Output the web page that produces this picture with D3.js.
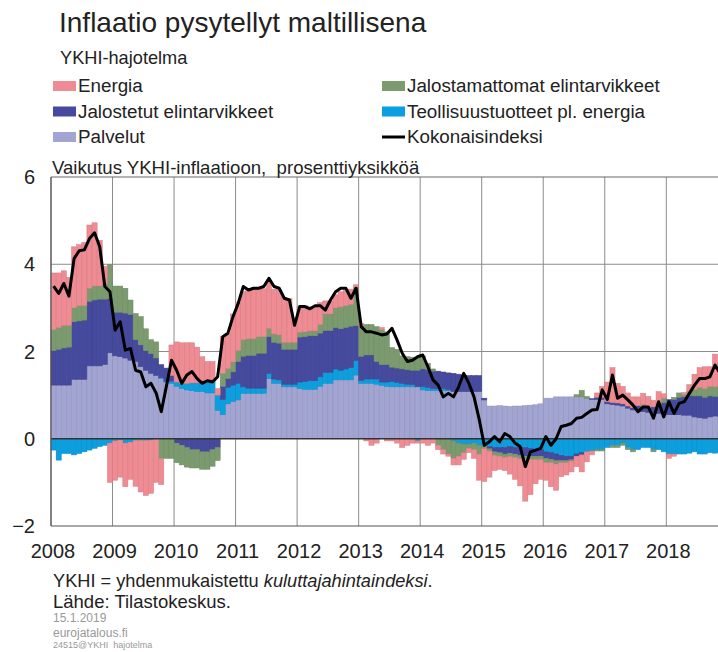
<!DOCTYPE html>
<html><head><meta charset="utf-8">
<script src="https://cdn.jsdelivr.net/npm/d3@7"></script>
<style>
html,body{margin:0;padding:0;background:#fff;}
svg{display:block;font-family:"Liberation Sans",Arial,sans-serif;}
</style></head>
<body>
<svg id="chart" width="718" height="652"></svg>
<script>
// ---------- DATA ----------
const years = ["2008","2009","2010","2011","2012","2013","2014","2015","2016","2017","2018"];
const yTicks = [-2, 0, 2, 4, 6];
const seriesNames = ["Palvelut","Teollisuustuotteet pl. energia","Jalostetut elintarvikkeet","Jalostamattomat elintarvikkeet","Energia"];

const palvelut = [
 1.23,1.23,1.23,1.23,1.36,1.36,1.36,1.67,1.67,1.67,1.70,1.97,
 1.90,1.88,1.85,1.80,1.77,1.65,1.57,1.50,1.45,1.38,1.30,1.27,
 1.20,1.15,1.12,1.10,1.08,1.08,1.05,1.05,0.65,0.55,0.80,0.85,
 0.89,1.04,1.04,1.04,1.04,1.04,1.38,1.27,1.27,1.19,1.19,1.19,
 1.15,1.13,1.13,1.13,1.20,1.27,1.27,1.35,1.35,1.35,1.35,1.46,
 1.27,1.27,1.27,1.25,1.22,1.20,1.19,1.19,1.19,1.19,1.19,1.19,
 1.12,1.10,1.10,1.10,1.10,1.10,1.08,1.08,1.08,1.08,1.08,1.08,
 0.89,0.75,0.75,0.76,0.75,0.74,0.75,0.75,0.76,0.77,0.78,0.80,
 0.93,0.93,0.96,0.96,0.96,0.96,0.96,0.96,0.92,0.90,0.90,0.90,
 0.80,0.78,0.77,0.75,0.70,0.66,0.66,0.62,0.60,0.58,0.58,0.58,
 0.55,0.55,0.55,0.54,0.54,0.50,0.48,0.47,0.50,0.52,0.52,0.52];

const teollisuus = [
 -0.26,-0.49,-0.34,-0.34,-0.37,-0.34,-0.30,-0.26,-0.22,-0.18,-0.15,-0.10,
 -0.05,-0.03,-0.10,-0.08,-0.04,-0.04,-0.04,-0.03,0.00,0.02,0.02,0.05,
 0.10,0.12,0.15,0.18,0.20,0.25,0.27,0.30,0.35,0.35,0.38,0.38,
 0.38,0.15,0.12,0.12,0.12,0.12,0.12,0.10,0.08,0.06,0.06,0.06,
 0.15,0.18,0.20,0.20,0.22,0.25,0.25,0.25,0.22,0.25,0.28,0.33,
 0.07,0.10,0.10,0.12,0.08,0.10,0.12,0.10,0.08,0.06,0.05,-0.05,
 0.08,0.08,0.05,0.05,0.05,0.03,-0.05,-0.10,-0.12,-0.12,-0.10,-0.15,
 -0.18,-0.18,-0.20,-0.20,-0.20,-0.18,-0.20,-0.20,-0.20,-0.22,-0.25,-0.25,
 -0.30,-0.32,-0.35,-0.38,-0.40,-0.40,-0.35,-0.32,-0.30,-0.28,-0.25,-0.25,
 -0.20,-0.15,-0.15,-0.10,-0.20,-0.25,-0.25,-0.20,-0.20,-0.25,-0.25,-0.30,
 -0.35,-0.35,-0.35,-0.35,-0.33,-0.30,-0.35,-0.35,-0.32,-0.33,-0.30,-0.30];

const jalostetut = [
 0.79,0.82,0.85,0.87,1.32,1.34,1.36,1.48,1.51,1.53,1.50,1.25,
 1.00,1.02,1.03,1.05,0.50,0.50,0.45,0.45,0.40,0.30,0.30,0.13,
 -0.10,-0.15,-0.20,-0.25,-0.25,-0.30,-0.30,-0.25,-0.20,0.30,0.20,0.30,
 0.50,0.70,0.75,0.75,0.80,0.80,0.84,0.84,0.84,0.80,0.80,0.80,
 1.03,1.03,1.03,1.03,1.00,0.96,0.96,0.95,0.95,0.95,0.95,0.80,
 0.55,0.55,0.55,0.40,0.40,0.40,0.33,0.33,0.33,0.33,0.33,0.38,
 0.40,0.40,0.40,0.40,0.38,0.38,0.42,0.40,0.38,0.37,0.37,0.37,
 0.04,-0.05,-0.10,-0.12,-0.15,-0.15,-0.15,-0.18,-0.20,-0.18,-0.15,-0.15,
 -0.15,-0.15,-0.15,-0.12,-0.10,-0.08,-0.05,-0.05,0.00,0.02,0.05,0.05,
 0.05,0.05,0.05,0.05,0.05,0.05,0.10,0.12,0.12,0.15,0.20,0.25,
 0.35,0.35,0.40,0.42,0.45,0.48,0.50,0.48,0.48,0.45,0.45,0.45];

const jalostamattomat = [
 0.48,0.50,0.52,0.50,0.32,0.35,0.33,0.30,0.32,0.30,0.35,0.78,
 0.60,0.60,0.57,0.33,0.60,0.65,0.50,0.32,0.37,-0.45,-0.45,-0.45,
 -0.45,-0.45,-0.45,-0.42,-0.42,-0.40,-0.40,-0.38,-0.30,0.30,0.23,0.23,
 0.25,0.38,0.38,0.38,0.38,0.38,0.19,0.19,0.19,0.16,0.16,0.16,
 0.11,0.11,0.11,0.11,0.20,0.38,0.38,0.45,0.50,0.50,0.50,0.89,
 0.70,0.70,0.70,0.80,0.80,0.75,0.45,0.43,0.30,0.30,0.30,0.30,
 0.30,0.15,0.05,-0.15,-0.25,-0.35,-0.40,-0.30,-0.20,-0.10,-0.15,-0.20,
 -0.05,-0.05,-0.08,-0.08,-0.08,-0.08,-0.08,-0.08,-0.08,-0.08,-0.08,-0.08,
 -0.10,-0.08,-0.08,-0.05,-0.05,-0.03,0.05,0.15,0.05,0.00,-0.03,-0.03,
 0.00,-0.05,-0.05,-0.05,-0.05,-0.05,0.00,0.05,0.00,-0.05,0.05,0.10,
 0.00,0.05,0.10,0.05,0.10,0.15,0.20,0.20,0.22,0.22,0.22,0.20];

const energia = [
 1.30,1.25,1.25,1.10,1.40,1.40,1.45,1.45,1.45,1.05,0.40,-0.90,
 -0.90,-0.85,-1.00,-0.85,-1.05,-1.18,-1.26,-1.22,-1.00,-0.60,0.00,0.70,
 0.92,0.93,0.93,0.92,0.82,0.55,0.45,0.42,0.15,0.84,0.81,1.10,
 1.10,1.10,1.15,1.15,1.10,1.10,1.11,1.03,1.03,1.03,1.00,0.46,
 0.60,0.60,0.55,0.55,0.50,0.30,0.30,0.30,0.35,0.35,0.35,0.05,
 0.05,-0.05,-0.15,-0.10,0.05,-0.05,-0.05,-0.10,-0.20,-0.15,-0.10,-0.05,
 -0.10,-0.15,-0.10,-0.10,-0.10,-0.05,-0.15,-0.20,-0.15,-0.10,-0.20,-0.60,
 -0.75,-0.60,-0.35,-0.30,-0.30,-0.40,-0.50,-0.62,-0.95,-0.80,-0.55,-0.45,
 -0.40,-0.55,-0.60,-0.32,-0.28,-0.25,-0.24,-0.39,-0.23,-0.09,0.10,0.25,
 0.45,0.80,0.45,0.40,0.30,0.25,0.20,0.25,0.25,0.15,0.25,0.10,
 -0.10,-0.05,0.00,0.05,0.15,0.35,0.45,0.50,0.45,0.75,0.55,0.35];

const kokonaisindeksi = [
 3.50,3.33,3.56,3.27,4.13,4.31,4.33,4.59,4.72,4.40,3.49,3.37,
 2.49,2.68,2.03,2.07,1.57,1.53,1.19,1.27,1.05,0.62,1.20,1.80,
 1.57,1.27,1.46,1.54,1.38,1.27,1.33,1.30,1.42,2.34,2.42,2.80,
 3.10,3.49,3.41,3.45,3.45,3.49,3.68,3.49,3.45,3.22,3.18,2.60,
 3.03,3.03,2.98,3.05,3.05,2.95,3.18,3.37,3.45,3.45,3.22,3.45,
 2.57,2.45,2.45,2.42,2.38,2.40,2.53,2.26,1.96,1.77,1.80,1.88,
 1.92,1.65,1.35,1.23,0.96,1.04,0.96,1.19,1.50,1.27,0.96,0.45,
 -0.15,-0.07,0.05,-0.07,0.12,0.05,-0.10,-0.18,-0.64,-0.30,-0.26,-0.22,
 0.05,-0.15,0.00,0.28,0.31,0.35,0.47,0.49,0.58,0.66,0.67,1.12,
 0.90,1.46,0.93,1.00,0.89,0.77,0.62,0.73,0.73,0.47,0.85,0.50,
 0.85,0.58,0.81,0.85,1.04,1.23,1.38,1.38,1.42,1.69,1.50,1.30];

// ---------- BUILD ----------
const months = [];
years.forEach(yy => { for (let m = 1; m <= 12; m++) months.push(yy + "-" + String(m).padStart(2, "0")); });
const table = months.map((m, i) => ({
  month: m,
  "Palvelut": palvelut[i],
  "Teollisuustuotteet pl. energia": teollisuus[i],
  "Jalostetut elintarvikkeet": jalostetut[i],
  "Jalostamattomat elintarvikkeet": jalostamattomat[i],
  "Energia": energia[i],
  total: kokonaisindeksi[i]
}));

const colors = {
  "Energia": "#ef8b92",
  "Jalostamattomat elintarvikkeet": "#7b9b6f",
  "Jalostetut elintarvikkeet": "#454a9f",
  "Teollisuustuotteet pl. energia": "#0b9fe0",
  "Palvelut": "#a2a4d2"
};

const svg = d3.select("#chart");
const plotL = 51, plotT = 177, plotB = 526, plotR = 718;
const monthW = 61.53 / 12;

const x = d3.scaleBand().domain(months).range([plotL, plotL + months.length * monthW]).paddingInner(0).paddingOuter(0);
const y = d3.scaleLinear().domain([-2, 6]).range([plotB, plotT]);

svg.append("rect").attr("width", 718).attr("height", 652).attr("fill", "#fff");

// grid
const grid = svg.append("g");
grid.selectAll("line.v").data(years).join("line")
  .attr("x1", d => x(d + "-01")).attr("x2", d => x(d + "-01"))
  .attr("y1", plotT).attr("y2", plotB)
  .attr("stroke", "#8c8c8c").attr("stroke-width", 1);
grid.selectAll("line.h").data([2, 4]).join("line")
  .attr("x1", plotL).attr("x2", plotR)
  .attr("y1", d => y(d)).attr("y2", d => y(d))
  .attr("stroke", "#8c8c8c").attr("stroke-width", 1);

// stacked bars
const stack = d3.stack().keys(seriesNames).offset(d3.stackOffsetDiverging);
const stacked = stack(table);
const bars = svg.append("g");
stacked.forEach(s => {
  const c = colors[s.key];
  bars.append("g").selectAll("rect").data(s).join("rect")
    .attr("x", d => x(d.data.month))
    .attr("width", x.bandwidth())
    .attr("y", d => y(Math.max(d[0], d[1])))
    .attr("height", d => Math.abs(y(d[0]) - y(d[1])))
    .attr("fill", c)
    .attr("stroke", d3.color(c).darker(0.35))
    .attr("stroke-width", 0.5);
});

// zero line and frame
svg.append("line").attr("x1", plotL).attr("x2", plotR).attr("y1", y(0)).attr("y2", y(0))
  .attr("stroke", "#333").attr("stroke-width", 1.3);
svg.append("line").attr("x1", plotL).attr("x2", plotR).attr("y1", plotT).attr("y2", plotT)
  .attr("stroke", "#666").attr("stroke-width", 1);
svg.append("line").attr("x1", plotL).attr("x2", plotR).attr("y1", plotB).attr("y2", plotB)
  .attr("stroke", "#555").attr("stroke-width", 1.2);
svg.append("line").attr("x1", plotL).attr("x2", plotL).attr("y1", plotT).attr("y2", plotB)
  .attr("stroke", "#555").attr("stroke-width", 1.2);

// total line
const line = d3.line()
  .x(d => x(d.month) + x.bandwidth() / 2)
  .y(d => y(d.total));
svg.append("path").datum(table).attr("d", line)
  .attr("fill", "none").attr("stroke", "#000").attr("stroke-width", 3)
  .attr("stroke-linejoin", "round");

// axes labels
svg.append("g").selectAll("text").data(yTicks).join("text")
  .attr("x", 35).attr("y", d => y(d) + 7)
  .attr("text-anchor", "end").attr("font-size", 20).attr("fill", "#222")
  .text(d => d < 0 ? "\u2212" + Math.abs(d) : d);
svg.append("g").selectAll("text").data(years).join("text")
  .attr("x", d => x(d + "-01") + 2).attr("y", 558)
  .attr("text-anchor", "middle").attr("font-size", 20).attr("fill", "#222")
  .text(d => d);

// titles
svg.append("text").attr("x", 59).attr("y", 32).attr("font-size", 28).attr("fill", "#222")
  .text("Inflaatio pysytellyt maltillisena");
svg.append("text").attr("x", 60).attr("y", 64).attr("font-size", 18.2).attr("fill", "#222")
  .text("YKHI-hajotelma");
svg.append("text").attr("x", 52).attr("y", 174).attr("font-size", 18.6).attr("fill", "#222")
  .style("white-space", "pre")
  .text("Vaikutus YKHI-inflaatioon,  prosenttiyksikköä");

// legend
const legendItems = [
  {name: "Energia", col: 0, row: 0},
  {name: "Jalostamattomat elintarvikkeet", col: 1, row: 0},
  {name: "Jalostetut elintarvikkeet", col: 0, row: 1},
  {name: "Teollisuustuotteet pl. energia", col: 1, row: 1},
  {name: "Palvelut", col: 0, row: 2},
  {name: "Kokonaisindeksi", col: 1, row: 2, line: true}
];
const lg = svg.append("g");
legendItems.forEach(it => {
  const lx = it.col === 0 ? 53 : 382;
  const ly = 85 + it.row * 25.5;
  if (it.line) {
    lg.append("line").attr("x1", lx).attr("x2", lx + 23).attr("y1", ly + 1).attr("y2", ly + 1)
      .attr("stroke", "#000").attr("stroke-width", 3);
  } else {
    lg.append("rect").attr("x", lx).attr("y", ly - 4).attr("width", 23).attr("height", 10)
      .attr("fill", colors[it.name]);
  }
  lg.append("text").attr("x", lx + 25).attr("y", ly + 7).attr("font-size", 18.8).attr("fill", "#222")
    .text(it.name);
});

// footer
const f1 = svg.append("text").attr("x", 53).attr("y", 587).attr("font-size", 18.2).attr("fill", "#222");
f1.append("tspan").text("YKHI = yhdenmukaistettu ");
f1.append("tspan").attr("font-style", "italic").text("kuluttajahintaindeksi");
f1.append("tspan").text(".");
svg.append("text").attr("x", 53).attr("y", 608).attr("font-size", 18.5).attr("fill", "#222")
  .text("Lähde: Tilastokeskus.");
svg.append("text").attr("x", 53).attr("y", 622).attr("font-size", 12).attr("fill", "#999").text("15.1.2019");
svg.append("text").attr("x", 53).attr("y", 637).attr("font-size", 12).attr("fill", "#999").text("eurojatalous.fi");
svg.append("text").attr("x", 53).attr("y", 648).attr("font-size", 9).attr("fill", "#999")
  .style("white-space", "pre").text("24515@YKHI  hajotelma");
</script>
</body></html>
